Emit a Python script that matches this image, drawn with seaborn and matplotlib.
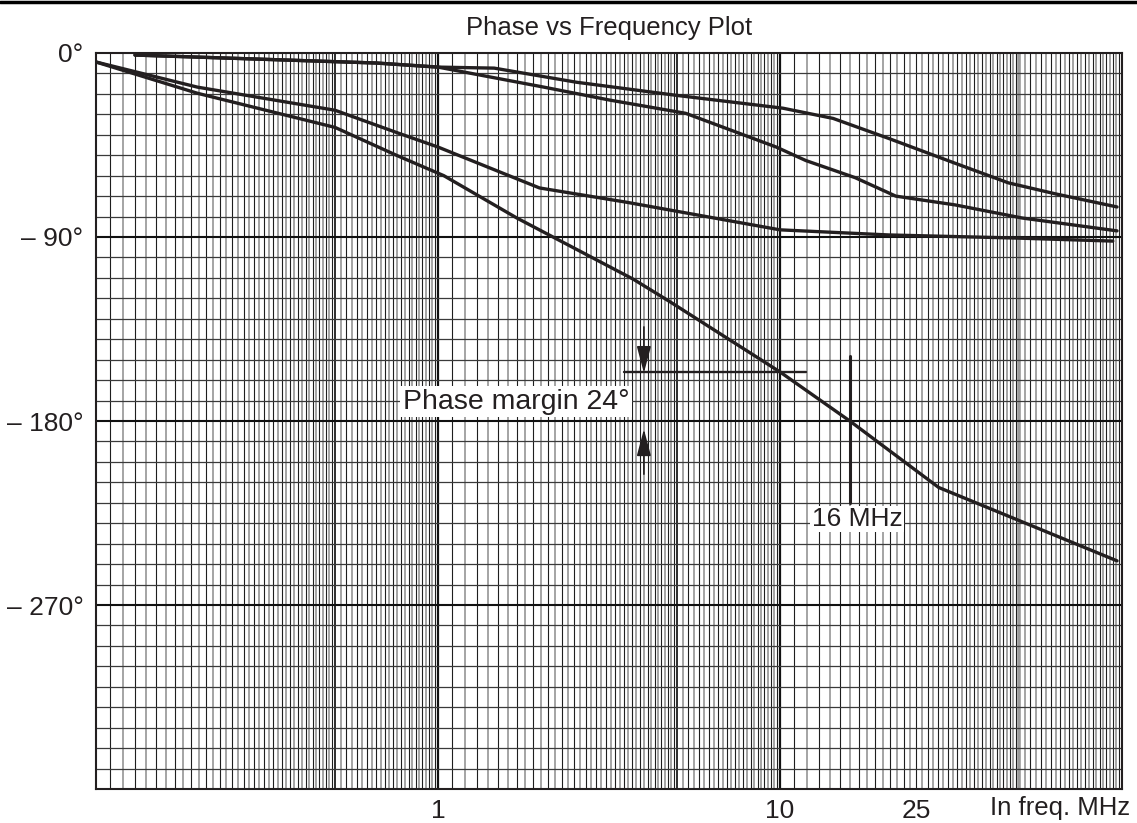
import numpy as np
import pandas as pd
import matplotlib
matplotlib.use("Agg")
import matplotlib.pyplot as plt
import seaborn as sns
from matplotlib.lines import Line2D
from matplotlib.ticker import NullLocator

# curve data (freq in MHz, phase in degrees)
c1_freq = [0.13, 0.66, 1.0, 1.46, 2.54, 4.97, 10.2, 14.3, 20.8, 32.6, 46.5, 63.9, 96.7]
c1_phase = [-1, -4.9, -6.9, -7.4, -14.3, -20.7, -27, -32, -41.8, -54, -63.5, -68.9, -75.3]

c2_freq = [0.13, 0.66, 1.0, 2.04, 3.17, 5.3, 9.75, 11.9, 16.6, 21.8, 32.5, 51, 96.7]
c2_phase = [-1, -4.9, -6.9, -16.7, -23, -29.5, -46, -52.6, -61, -70, -74.3, -80.7, -87]

c3_freq = [0.1, 0.198, 0.5, 0.76, 1.0, 1.98, 3.56, 10.0, 20.8, 48.7, 94]
c3_phase = [-4.4, -16.7, -28, -39, -46, -66, -73, -86.5, -89, -90.5, -92]

c4_freq = [0.1, 0.198, 0.5, 0.76, 1.04, 1.70, 3.73, 4.75, 10.0, 16.0, 29.1, 96.7]
c4_phase = [-4.4, -19.7, -36.4, -50.2, -60, -80.7, -110.7, -121.5, -156, -180, -212.5, -248.4]

y_ticks = [0, -90, -180, -270]
y_labels = ["0\u00b0", "\u2013 90\u00b0", "\u2013 180\u00b0", "\u2013 270\u00b0"]
x_ticks = [1, 10, 25]
x_labels = ["1", "10", "25"]

# phase margin annotation
pm_phase = -156
pm_line_freq = [3.5, 11.9]
f_cross = 16
f_cross_phase = [-148, -220]
arrow_freq = 4.0

df = pd.concat([
    pd.DataFrame({"freq": c1_freq, "phase": c1_phase, "curve": 1}),
    pd.DataFrame({"freq": c2_freq, "phase": c2_phase, "curve": 2}),
    pd.DataFrame({"freq": c3_freq, "phase": c3_phase, "curve": 3}),
    pd.DataFrame({"freq": c4_freq, "phase": c4_phase, "curve": 4}),
])

sns.set_style("white")
plt.rcParams["font.family"] = ["Liberation Sans", "DejaVu Sans"]
ink = "#231f20"

fig = plt.figure(figsize=(11.37, 8.23), dpi=100)
ax = fig.add_axes([96 / 1137, 1 - 789 / 823, (1122 - 96) / 1137, (789 - 53) / 823])
ax.set_xscale("log")
ax.set_xlim(0.1, 100)
ax.set_ylim(-360, 0)

# graph paper grid
for dec in [0.1, 1, 10]:
    steps = list(np.arange(1.1, 5.0, 0.1)) + list(np.arange(5.2, 10.0, 0.2))
    for i, v in enumerate(steps):
        col = "#1e1e1e" if i % 2 == 0 else "#8c8c8c"
        lw = 0.8 if i % 2 == 0 else 1.1
        ax.axvline(v * dec, color=col, lw=lw, zorder=1)
    ax.axvline(5 * dec, color="#1e1e1e" if dec < 10 else "#9a9a9a",
               lw=1.3 if dec < 10 else 2.6, zorder=1)
    if dec > 0.1:
        ax.axvline(dec, color="#111111", lw=1.6, zorder=1)
for p in range(-350, 0, 10):
    if p % 90 == 0:
        ax.axhline(p, color="#111111", lw=1.5, zorder=1)
    else:
        ax.axhline(p, color="#3a3a3a", lw=0.9, zorder=1)

sns.lineplot(data=df, x="freq", y="phase", units="curve", estimator=None,
             color=ink, lw=2.4, ax=ax, zorder=3)

ax.plot(pm_line_freq, [pm_phase, pm_phase], color=ink, lw=1.7, zorder=3)
ax.plot([f_cross, f_cross], f_cross_phase, color=ink, lw=2.2, zorder=3)
arrow_style = dict(arrowstyle="-|>,head_length=0.75,head_width=0.2", color=ink,
                   lw=1.2, mutation_scale=22, shrinkA=0, shrinkB=0)
ax.annotate("", xy=(arrow_freq, pm_phase - 0.5), xytext=(arrow_freq, -134),
            arrowprops=arrow_style, zorder=4)
ax.annotate("", xy=(arrow_freq, -184), xytext=(arrow_freq, -206),
            arrowprops=arrow_style, zorder=4)

ax.text(1.69, -170.5, "Phase margin 24\u00b0", fontsize=20.5, color=ink,
        ha="center", va="center", zorder=5,
        bbox=dict(facecolor="white", edgecolor="none", pad=2))
ax.text(16.8, -228, "16 MHz", fontsize=19, color=ink, ha="center", va="center",
        zorder=5, bbox=dict(facecolor="white", edgecolor="none", pad=1))

ax.set_yticks(y_ticks)
ax.set_yticklabels(y_labels)
ax.set_xticks(x_ticks)
ax.set_xticklabels(x_labels)
ax.xaxis.set_minor_locator(NullLocator())
ax.tick_params(axis="both", length=0, labelsize=19, colors=ink)
ax.tick_params(axis="y", pad=9)
ax.tick_params(axis="x", pad=7)
ax.set_xlabel("")
ax.set_ylabel("")
for s in ax.spines.values():
    s.set_visible(True)
    s.set_color(ink)
    s.set_linewidth(1.5)

ax.set_title("Phase vs Frequency Plot", fontsize=18.5, color=ink, pad=13)
fig.text(990 / 1137, 1 - 808 / 823, "In freq. MHz", fontsize=18.5, color=ink,
         ha="left", va="center")
fig.add_artist(Line2D([0, 1], [1 - 1.5 / 823, 1 - 1.5 / 823], transform=fig.transFigure,
                      color="black", lw=2.5))

fig.savefig("out.png", dpi=100)
